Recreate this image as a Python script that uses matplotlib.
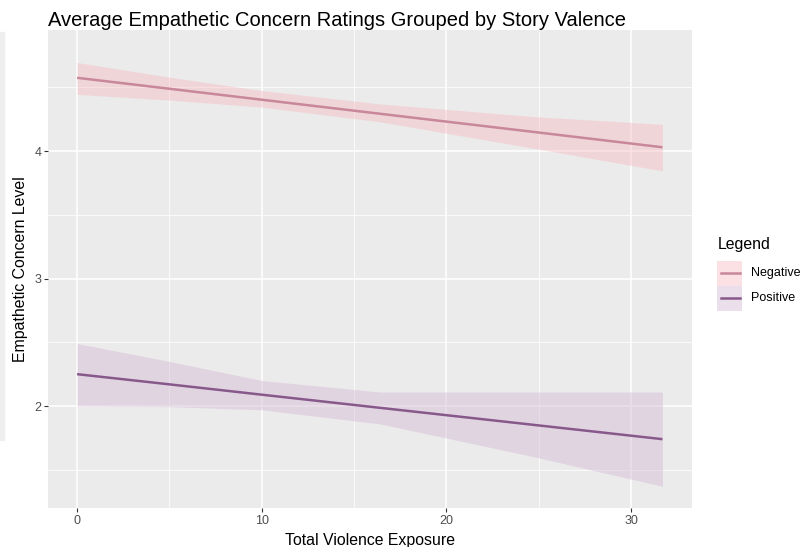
import matplotlib
matplotlib.use('Agg')
import matplotlib.pyplot as plt
from matplotlib.patches import Rectangle
from matplotlib.lines import Line2D

# values
exposure = [0, 5, 10, 16.4, 24.8, 31.7]
neg_fit = [4.575, 4.489, 4.403, 4.293, 4.149, 4.03]
neg_low = [4.445, 4.40, 4.345, 4.23, 4.02, 3.845]
neg_high = [4.695, 4.58, 4.475, 4.37, 4.27, 4.21]
pos_fit = [2.25, 2.17, 2.089, 1.986, 1.851, 1.74]
pos_low = [2.0, 1.995, 1.97, 1.86, 1.60, 1.37]
pos_high = [2.49, 2.35, 2.20, 2.11, 2.11, 2.11]
groups = ['Negative', 'Positive']

line_cols = {'Negative': '#C8879A', 'Positive': '#87598B'}
fill_cols = {'Negative': '#F9B4BD', 'Positive': '#D4B8D6'}
fill_alpha = {'Negative': 0.4, 'Positive': 0.45}

plt.rcParams['font.family'] = ['Liberation Sans', 'DejaVu Sans']

W, H = 803, 547
fig = plt.figure(figsize=(W / 100, H / 100), dpi=100)
ax = fig.add_axes([48.5 / W, 1 - 508 / H, (692 - 48.5) / W, (508 - 30) / H])
ax.set_facecolor('#EBEBEB')

# faint strip at the left edge of the reference
fig.patches.append(Rectangle((0, 1 - 440 / H), 4 / W, 408 / H,
                             transform=fig.transFigure, color='#EFEFEF', zorder=0))

ax.fill_between(exposure, neg_low, neg_high, color=fill_cols['Negative'],
                alpha=fill_alpha['Negative'], lw=0, zorder=2)
ax.fill_between(exposure, pos_low, pos_high, color=fill_cols['Positive'],
                alpha=fill_alpha['Positive'], lw=0, zorder=2)
ax.plot(exposure, neg_fit, color=line_cols['Negative'], lw=1.8, zorder=3, solid_capstyle='butt')
ax.plot(exposure, pos_fit, color=line_cols['Positive'], lw=1.8, zorder=3, solid_capstyle='butt')

ax.set_xlim(-1.55, 33.3)
ax.set_ylim(1.2, 4.95)
ax.set_xticks([0, 10, 20, 30])
ax.set_yticks([2, 3, 4])
ax.set_xticks([5, 15, 25], minor=True)
ax.set_yticks([1.5, 2.5, 3.5, 4.5], minor=True)
ax.grid(which='major', color='white', lw=1.1, zorder=1)
ax.grid(which='minor', color='white', lw=0.55, zorder=1)
ax.set_axisbelow(True)
for s in ax.spines.values():
    s.set_visible(False)
ax.tick_params(which='major', length=3, width=0.8, color='#333333',
               labelcolor='#4D4D4D', labelsize=9, pad=2)
ax.tick_params(which='minor', length=0)

ax.set_xlabel('Total Violence Exposure', fontsize=11.4, labelpad=4)
ax.set_ylabel('Empathetic Concern Level', fontsize=11.4, labelpad=5)
ax.set_title('Average Empathetic Concern Ratings Grouped by Story Valence',
             fontsize=14.5, loc='left', x=0.0, pad=2.5)

# legend drawn by hand, ggplot style
fig.text(718 / W, 1 - 245 / H, 'Legend', fontsize=11.4, va='center', ha='left')
key_top = 260.5
key_h = 25
for i, g in enumerate(groups):
    y0 = key_top + i * key_h
    fig.patches.append(Rectangle((717 / W, 1 - (y0 + key_h) / H), 25 / W, key_h / H,
                                 transform=fig.transFigure, facecolor=fill_cols[g],
                                 alpha=fill_alpha[g], edgecolor='none'))
    yc = 1 - (y0 + key_h / 2) / H
    fig.lines.append(Line2D([721 / W, 740 / W], [yc, yc], transform=fig.transFigure,
                            color=line_cols[g], lw=1.8))
    fig.text(751 / W, yc, g, fontsize=9, va='center', ha='left')

fig.savefig('out.png', dpi=100)
